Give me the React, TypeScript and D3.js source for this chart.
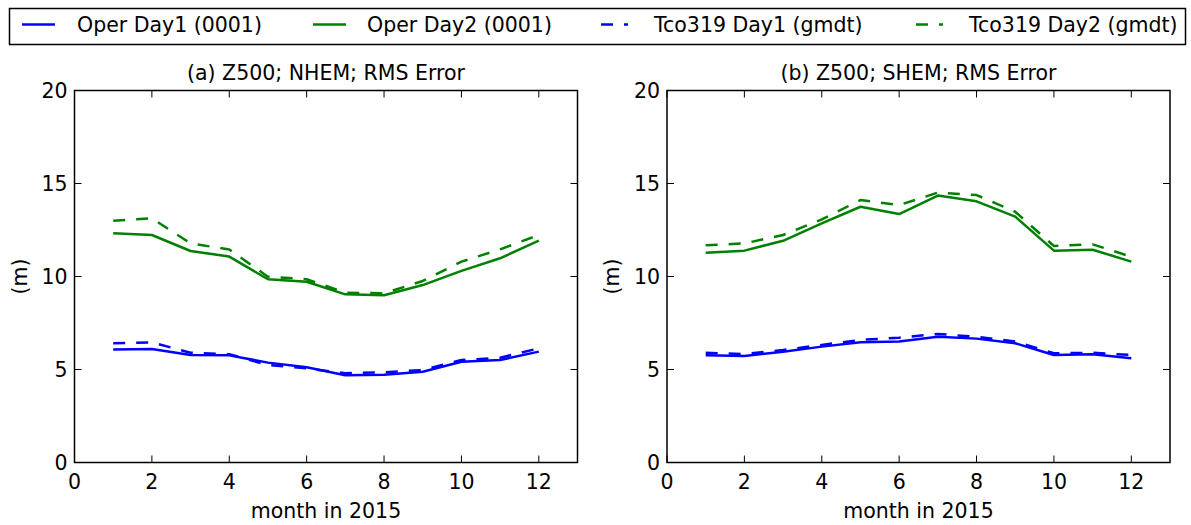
import React from "react";
import * as d3 from "d3";

const months = [1, 2, 3, 4, 5, 6, 7, 8, 9, 10, 11, 12];
const xTicks = [0, 2, 4, 6, 8, 10, 12];
const yTicks = [0, 5, 10, 15, 20];

// (a) NHEM
const nhOperDay1 = [6.08, 6.1, 5.78, 5.76, 5.37, 5.12, 4.69, 4.72, 4.88, 5.42, 5.51, 5.96];
const nhOperDay2 = [12.32, 12.23, 11.37, 11.07, 9.85, 9.72, 9.04, 8.99, 9.54, 10.3, 10.98, 11.93];
const nhTcoDay1 = [6.41, 6.46, 5.9, 5.82, 5.24, 5.06, 4.8, 4.85, 4.97, 5.51, 5.63, 6.14];
const nhTcoDay2 = [13.0, 13.13, 11.78, 11.45, 9.99, 9.85, 9.13, 9.1, 9.76, 10.8, 11.46, 12.23];

// (b) SHEM
const shOperDay1 = [5.76, 5.73, 5.96, 6.23, 6.46, 6.51, 6.76, 6.66, 6.41, 5.78, 5.82, 5.6];
const shOperDay2 = [11.28, 11.39, 11.92, 12.86, 13.75, 13.36, 14.35, 14.04, 13.22, 11.39, 11.44, 10.8];
const shTcoDay1 = [5.9, 5.83, 6.05, 6.32, 6.59, 6.71, 6.91, 6.76, 6.5, 5.87, 5.9, 5.78];
const shTcoDay2 = [11.68, 11.78, 12.23, 13.07, 14.11, 13.84, 14.51, 14.38, 13.48, 11.64, 11.73, 11.06];

const seriesNames = ["Oper Day1 (0001)", "Oper Day2 (0001)", "Tco319 Day1 (gmdt)", "Tco319 Day2 (gmdt)"];
const titles = ["(a) Z500; NHEM; RMS Error", "(b) Z500; SHEM; RMS Error"];

const BLUE = "#0000ff";
const GREEN = "#008000";
const DASH = "12,11";
const FONT = "DejaVu Sans, sans-serif";
const FS = 20.5;

const seriesStyles = [
  { color: BLUE, dash: undefined as string | undefined },
  { color: GREEN, dash: undefined as string | undefined },
  { color: BLUE, dash: DASH },
  { color: GREEN, dash: DASH },
];

const TOP = 90.5;
const BOTTOM = 462.5;
const panels = [
  { left: 74.5, right: 577.5, title: titles[0], data: [nhOperDay1, nhOperDay2, nhTcoDay1, nhTcoDay2] },
  { left: 667, right: 1170, title: titles[1], data: [shOperDay1, shOperDay2, shTcoDay1, shTcoDay2] },
];

function Panel({ left, right, title, data }: any) {
  const x = d3.scaleLinear().domain([0, 13]).range([left, right]);
  const y = d3.scaleLinear().domain([0, 20]).range([BOTTOM, TOP]);
  const line = d3
    .line<number>()
    .x((_, i) => x(months[i]))
    .y((d) => y(d));
  const tl = 7;
  return (
    <g>
      {data.map((vals: number[], i: number) => (
        <path
          key={i}
          d={line(vals) || ""}
          fill="none"
          stroke={seriesStyles[i].color}
          strokeWidth={2.5}
          strokeDasharray={seriesStyles[i].dash}
          strokeLinejoin="round"
        />
      ))}
      <rect x={left} y={TOP} width={right - left} height={BOTTOM - TOP} fill="none" stroke="#000" strokeWidth={1.5} />
      {xTicks.map((t) => (
        <g key={"x" + t}>
          <line x1={x(t)} x2={x(t)} y1={BOTTOM} y2={BOTTOM - tl} stroke="#000" strokeWidth={1} />
          <line x1={x(t)} x2={x(t)} y1={TOP} y2={TOP + tl} stroke="#000" strokeWidth={1} />
          <text x={x(t)} y={BOTTOM + 26} textAnchor="middle" fontSize={FS} fontFamily={FONT}>
            {t}
          </text>
        </g>
      ))}
      {yTicks.map((t) => (
        <g key={"y" + t}>
          <line x1={left} x2={left + tl} y1={y(t)} y2={y(t)} stroke="#000" strokeWidth={1} />
          <line x1={right} x2={right - tl} y1={y(t)} y2={y(t)} stroke="#000" strokeWidth={1} />
          <text x={left - 7} y={y(t) + 7} textAnchor="end" fontSize={FS} fontFamily={FONT}>
            {t}
          </text>
        </g>
      ))}
      <text x={(left + right) / 2} y={TOP - 11} textAnchor="middle" fontSize={FS} fontFamily={FONT}>
        {title}
      </text>
      <text x={(left + right) / 2} y={BOTTOM + 55} textAnchor="middle" fontSize={FS} fontFamily={FONT}>
        month in 2015
      </text>
      <text
        transform={`translate(${left - 48},${(TOP + BOTTOM) / 2}) rotate(-90)`}
        textAnchor="middle"
        fontSize={FS}
        fontFamily={FONT}
      >
        (m)
      </text>
    </g>
  );
}

const legendHandleX = [22, 313, 601, 916];
const legendTextX = [77, 367, 654, 969];

export default function App() {
  return (
    <svg width={1191} height={525} style={{ position: "absolute", left: 0, top: 0, background: "#fff" }}>
      <rect x={0} y={0} width={1191} height={525} fill="#fff" />
      <rect x={9.5} y={8.5} width={1176} height={36} fill="#fff" stroke="#000" strokeWidth={1.5} />
      {seriesNames.map((name, i) => (
        <g key={name}>
          <line
            x1={legendHandleX[i]}
            x2={legendHandleX[i] + (seriesStyles[i].dash ? 27 : 33)}
            y1={24.5}
            y2={24.5}
            stroke={seriesStyles[i].color}
            strokeWidth={2.5}
            strokeDasharray={seriesStyles[i].dash}
          />
          <text x={legendTextX[i]} y={32} fontSize={FS} fontFamily={FONT}>
            {name}
          </text>
        </g>
      ))}
      {panels.map((p, i) => (
        <Panel key={i} {...p} />
      ))}
    </svg>
  );
}
